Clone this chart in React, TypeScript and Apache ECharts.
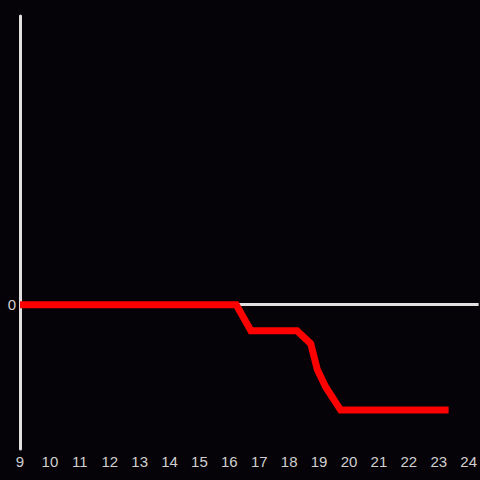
import React, { useEffect, useRef } from "react";
import * as echarts from "echarts";

const hours: number[] = [9, 16.23, 16.72, 18.26, 18.72, 18.94, 19.22, 19.72, 23.33];
const values: number[] = [0, 0, -1.8, -1.8, -2.7, -4.5, -5.7, -7.3, -7.3];
const xTicks: number[] = [9, 10, 11, 12, 13, 14, 15, 16, 17, 18, 19, 20, 21, 22, 23, 24];

export default function App() {
  const ref = useRef<HTMLDivElement>(null);
  useEffect(() => {
    if (!ref.current) return;
    const chart = echarts.init(ref.current, null, { renderer: "svg" });
    chart.setOption({
      animation: false,
      backgroundColor: "#050307",
      grid: { left: 20, right: 0, top: 16, bottom: 31, containLabel: false },
      xAxis: {
        type: "value",
        min: 9,
        max: 24 + 1 / 3,
        interval: 1,
        axisLine: { show: false, onZero: false },
        axisTick: { show: false },
        splitLine: { show: false },
        axisLabel: {
          color: "#d0d0d0",
          fontSize: 15,
          fontFamily: "Liberation Sans, Arial, sans-serif",
          margin: 5,
          formatter: (v: number) => (xTicks.includes(v) ? String(v) : ""),
          showMaxLabel: false,
        },
      },
      yAxis: {
        type: "value",
        min: -10,
        max: 20,
        interval: 10,
        axisLine: { show: true, lineStyle: { color: "#e0e0e0", width: 3 } },
        axisTick: { show: false },
        splitLine: { show: false },
        axisLabel: {
          color: "#d0d0d0",
          fontSize: 15,
          fontFamily: "Liberation Sans, Arial, sans-serif",
          margin: 4,
          formatter: (v: number) => (v === 0 ? "0" : ""),
        },
      },
      series: [
        {
          type: "line",
          data: hours.map((h, i) => [h, values[i]]),
          symbol: "none",
          lineStyle: { color: "#ff0000", width: 7, cap: "butt", join: "miter" },
          z: 3,
          markLine: {
            silent: true,
            symbol: "none",
            label: { show: false },
            lineStyle: { color: "#e0e0e0", width: 3, type: "solid" },
            data: [{ yAxis: 0 }],
            z: 1,
          },
        },
      ],
    });
    return () => chart.dispose();
  }, []);
  return <div ref={ref} style={{ width: 480, height: 480, position: "fixed", left: 0, top: 0 }} />;
}
